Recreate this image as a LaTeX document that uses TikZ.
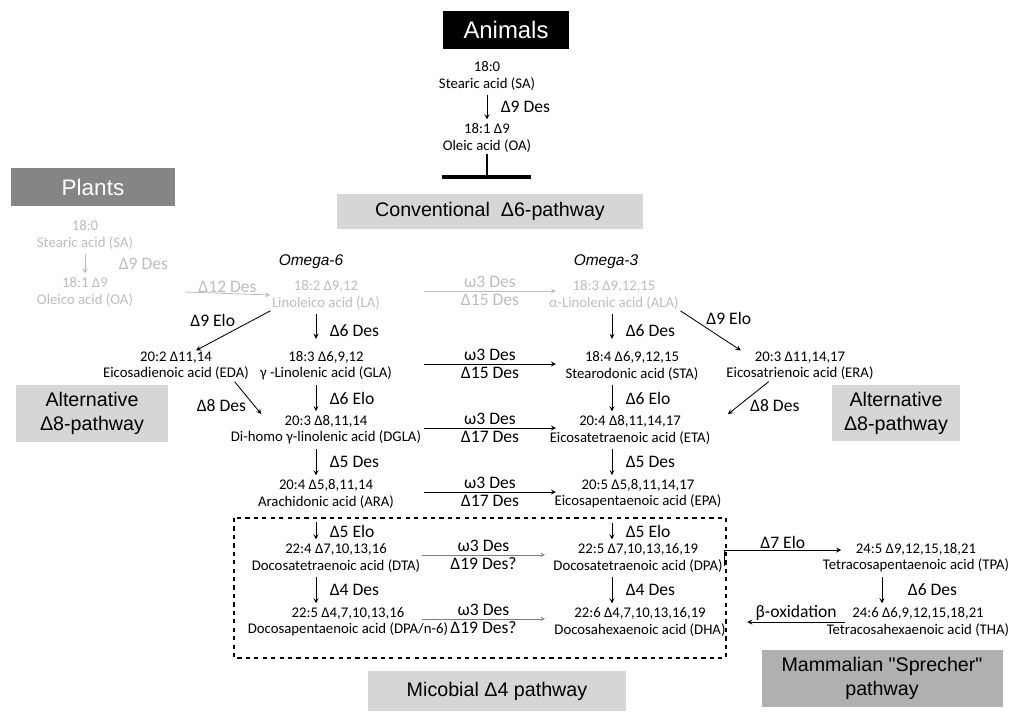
\documentclass[tikz,border=0pt]{standalone}
\usepackage{fontspec}
\setmainfont{Carlito}
\newfontfamily\headfont{Liberation Sans}
\usetikzlibrary{positioning}

\definecolor{boxlight}{HTML}{D6D6D6}
\definecolor{boxmid}{HTML}{B0B0B0}
\definecolor{boxdark}{HTML}{858585}
\definecolor{fade}{HTML}{BDBDBD}
\newcommand{\acidsize}{\fontsize{10.5}{11.5}\selectfont}
\newcommand{\stepsize}{\fontsize{12.5}{14}\selectfont}

\tikzstyle{animalbox} = [rectangle, minimum width=3.15cm, minimum height=0.95cm, text centered, fill=black, text=white, font=\headfont\fontsize{17}{20}\selectfont]
\tikzstyle{plantbox} = [rectangle, minimum width=4.1cm, minimum height=0.95cm, text centered, fill=boxdark, text=white, font=\headfont\fontsize{16}{19}\selectfont]
\tikzstyle{pathbox} = [rectangle, text centered, align=center, fill=boxlight, font=\headfont\fontsize{14}{17}\selectfont]
\tikzstyle{acid} = [align=center, inner sep=1pt, font=\acidsize]
\tikzstyle{faded} = [text=fade]
\tikzstyle{enzyme} = [font=\stepsize, inner sep=1pt]
\tikzstyle{side} = [enzyme, right, xshift=0.3cm]
\tikzstyle{over} = [enzyme, above, inner sep=0pt, yshift=2pt]
\tikzstyle{under} = [enzyme, below, inner sep=0pt, yshift=-2pt]
\tikzstyle{omega} = [font=\headfont\itshape\fontsize{11}{13}\selectfont]
\tikzstyle{arrow} = [semithick,->,>=stealth]
\tikzstyle{vstep} = [arrow, shorten <=2pt, shorten >=2pt]

\begin{document}
\begin{tikzpicture}[node distance=1.6cm]
\useasboundingbox (0,0) rectangle (25.4,-17.775);

\node (animals) [animalbox] at (12.65,-0.75) {Animals};
\node (plants) [plantbox] at (2.325,-4.675) {Plants};
\node (conventional) [pathbox, minimum width=7.65cm, minimum height=0.875cm] at (12.25,-5.275) {Conventional\ \ Δ6-pathway};
\node (altleft) [pathbox, minimum width=3.8cm, minimum height=1.425cm] at (2.3,-10.325) {Alternative\\Δ8-pathway};
\node (altright) [pathbox, minimum width=3.2cm, minimum height=1.4cm] at (22.4,-10.325) {Alternative\\Δ8-pathway};
\node (microbial) [pathbox, minimum width=6.45cm, minimum height=1cm] at (12.425,-17.275) {Micobial Δ4 pathway};
\node (sprecher) [pathbox, fill=boxmid, minimum width=6.025cm, minimum height=1.425cm] at (22.05,-16.95) {Mammalian "Sprecher"\\pathway};

\node (SA) [acid] at (12.175,-1.9) {18:0\\Stearic acid (SA)};
\node (OA) [acid, below of=SA, yshift=0.05cm] {18:1 Δ9\\Oleic acid (OA)};
\coordinate (block) at (12.175,-4.425);

\node (plantSA) [acid, faded] at (2.125,-5.875) {18:0\\Stearic acid (SA)};
\node (plantOA) [acid, faded, below of=plantSA, yshift=0.175cm] {18:1 Δ9\\Oleico acid (OA)};

\node (omegasix) [omega] at (7.775,-6.55) {Omega-6};
\node (omegathree) [omega] at (15.15,-6.55) {Omega-3};

\node (LA) [acid, faded] at (8.15,-7.375) {18:2 Δ9,12\\Linoleico acid (LA)};
\node (GLA) [acid, below of=LA, yshift=-0.175cm] {18:3 Δ6,9,12\\γ -Linolenic acid (GLA)};
\node (DGLA) [acid, below of=GLA] {20:3 Δ8,11,14\\Di-homo γ-linolenic acid (DGLA)};
\node (ARA) [acid, below of=DGLA] {20:4 Δ5,8,11,14\\Arachidonic acid (ARA)};
\node (DTA) [acid, below of=ARA, xshift=0.25cm] {22:4 Δ7,10,13,16\\Docosatetraenoic acid (DTA)};
\node (DPAsix) [acid, below of=DTA, xshift=0.3cm] {22:5 Δ4,7,10,13,16\\Docosapentaenoic acid (DPA/n-6)};
\node (EDA) [acid, left of=GLA, xshift=-2.15cm] {20:2 Δ11,14\\Eicosadienoic acid (EDA)};

\node (ALA) [acid, faded, right of=LA, xshift=5.6cm] {18:3 Δ9,12,15\\α-Linolenic acid (ALA)};
\node (STA) [acid, right of=GLA, xshift=6.05cm] {18:4 Δ6,9,12,15\\Stearodonic acid (STA)};
\node (ETA) [acid, right of=DGLA, xshift=6cm] {20:4 Δ8,11,14,17\\Eicosatetraenoic acid (ETA)};
\node (EPA) [acid, right of=ARA, xshift=6.2cm] {20:5 Δ5,8,11,14,17\\Eicosapentaenoic acid (EPA)};
\node (DPA) [acid, right of=DTA, xshift=5.95cm] {22:5 Δ7,10,13,16,19\\Docosatetraenoic acid (DPA)};
\node (DHA) [acid, right of=DPAsix, xshift=5.7cm] {22:6 Δ4,7,10,13,16,19\\Docosahexaenoic acid (DHA)};
\node (ERA) [acid, right of=STA, xshift=2.6cm] {20:3 Δ11,14,17\\Eicosatrienoic acid (ERA)};
\node (TPA) [acid, right of=DPA, xshift=5.35cm] {24:5 Δ9,12,15,18,21\\Tetracosapentaenoic acid (TPA)};
\node (THA) [acid, below of=TPA, xshift=0.05cm] {24:6 Δ6,9,12,15,18,21\\Tetracosahexaenoic acid (THA)};

\coordinate (vsix) at (7.9,0);
\coordinate (vthree) at (15.3,0);
\coordinate (vsprecher) at (22.05,0);
\coordinate (hleft) at (10.6,0);
\coordinate (hright) at (13.9,0);
\coordinate (hleftlow) at (10.55,0);
\coordinate (hrightlow) at (13.625,0);

\draw [vstep] (SA) -- node[side]{Δ9 Des} (OA);
\draw [line width=1.5pt] (OA.south) -- (block);
\draw [line width=3.5pt] ([xshift=-1.125cm]block) -- ([xshift=1.1cm]block);

\draw [vstep, draw=fade] (plantSA) -- node[enzyme, right, xshift=0.8cm, text=fade]{Δ9 Des} (plantOA);
\draw [arrow, draw=fade] ([xshift=1.25cm]plantOA.east) -- node[enzyme, above, inner sep=0pt, text=fade]{Δ12 Des} (LA.west);
\draw [arrow, draw=fade] ([yshift=0.1cm]LA -| hleft) -- node[over, text=fade]{ω3 Des} node[under, text=fade]{Δ15 Des} ([yshift=0.1cm]ALA -| hright);

\draw [arrow] (LA.south west) -- node[enzyme, above left, pos=0.45]{Δ9 Elo} ([xshift=0.5cm]EDA.north);
\draw [vstep, shorten >=8pt] (LA.south -| vsix) -- node[side]{Δ6 Des} (GLA.north -| vsix);
\draw [arrow] (ALA.south east) -- node[enzyme, above right, pos=0.4]{Δ9 Elo} ([xshift=0.4cm]ERA.north west);
\draw [vstep, shorten >=8pt] (ALA.south -| vthree) -- node[side]{Δ6 Des} (STA.north -| vthree);
\draw [arrow] ([yshift=0.05cm]GLA -| hleft) -- node[over]{ω3 Des} node[under]{Δ15 Des} ([yshift=0.05cm]STA -| hright);

\draw [arrow] ([xshift=-0.4cm]EDA.south east) -- node[enzyme, below left]{Δ8 Des} ([xshift=0.8cm]DGLA.north west);
\draw [arrow] ([xshift=1.1cm]ERA.south west) -- node[enzyme, below right]{Δ8 Des} ([xshift=0.4cm]ETA.north east);
\draw [vstep] (GLA.south -| vsix) -- node[side]{Δ6 Elo} (DGLA.north -| vsix);
\draw [vstep] (STA.south -| vthree) -- node[side]{Δ6 Elo} (ETA.north -| vthree);
\draw [arrow] ([yshift=0.05cm]DGLA -| hleft) -- node[over]{ω3 Des} node[under]{Δ17 Des} ([yshift=0.05cm]ETA -| hright);

\draw [vstep] (DGLA.south -| vsix) -- node[side]{Δ5 Des} (ARA.north -| vsix);
\draw [vstep] (ETA.south -| vthree) -- node[side]{Δ5 Des} (EPA.north -| vthree);
\draw [arrow] ([yshift=0.05cm]ARA -| hleft) -- node[over]{ω3 Des} node[under]{Δ17 Des} ([yshift=0.05cm]EPA -| hright);

\draw [thick, dashed] (5.85,-12.95) rectangle (18.15,-16.45);
\draw [vstep, shorten <=9pt] (ARA.south -| vsix) -- node[side, pos=0.66]{Δ5 Elo} (DTA.north -| vsix);
\draw [vstep, shorten <=9pt] (EPA.south -| vthree) -- node[side, pos=0.66]{Δ5 Elo} (DPA.north -| vthree);
\draw [arrow, thin, draw=gray] ([yshift=0.08cm]DTA -| hleftlow) -- node[over]{ω3 Des} node[under]{Δ19 Des?} ([yshift=0.08cm]DPA -| hrightlow);
\draw [vstep] (DTA.south -| vsix) -- node[side]{Δ4 Des} (DPAsix.north -| vsix);
\draw [vstep] (DPA.south -| vthree) -- node[side]{Δ4 Des} (DHA.north -| vthree);
\draw [arrow, thin, draw=gray] ([yshift=0.08cm]DPAsix -| hleftlow) -- node[over]{ω3 Des} node[under]{Δ19 Des?} ([yshift=0.08cm]DHA -| hrightlow);

\draw [arrow] ([yshift=-0.2cm]DPA.east) |- node[enzyme, above, pos=0.75]{Δ7 Elo} ([yshift=0.2cm, xshift=0.5cm]TPA.west);
\draw [vstep] (TPA.south -| vsprecher) -- node[side, xshift=0.3cm]{Δ6 Des} (THA.north -| vsprecher);
\draw [arrow] ([xshift=0.5cm]THA.west) -- node[enzyme, above]{β-oxidation} ([xshift=0.5cm]THA.west -| DHA.east);

\end{tikzpicture}
\end{document}
